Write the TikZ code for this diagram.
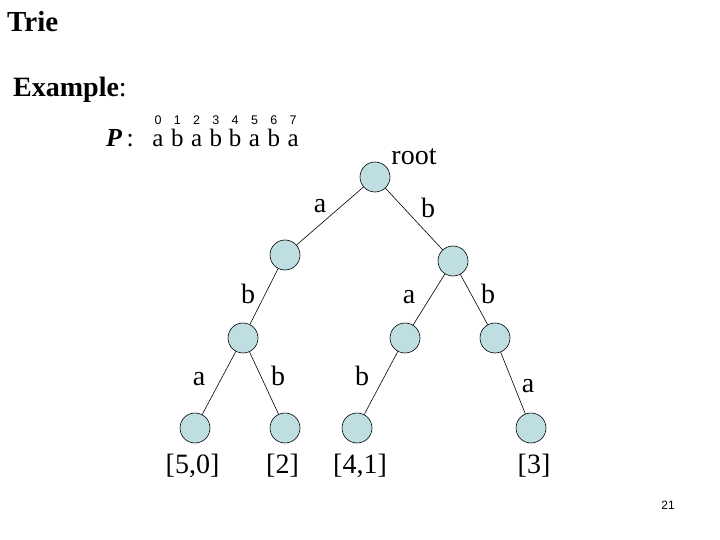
\documentclass[tikz,border=0pt]{standalone}
\usepackage{fontspec}
\setmainfont{Liberation Serif}[BoldFont={Liberation Serif Bold},ItalicFont={Liberation Serif Italic},BoldItalicFont={Liberation Serif Bold Italic}]
\newfontfamily\digitfont{Liberation Sans}
\definecolor{nodefill}{RGB}{190,222,226}
\begin{document}
\begin{tikzpicture}[x=1pt,y=-1pt,
  tnode/.style={circle,draw=black,line width=0.6pt,fill=nodefill,minimum size=30pt,inner sep=0pt},
  edge/.style={line width=0.6pt},
  lbl/.style={font=\fontsize{28}{32}\selectfont,inner sep=0pt,anchor=base},
  leaf/.style={font=\fontsize{28}{32}\selectfont,inner sep=0pt,anchor=base}]
\useasboundingbox (0,0) rectangle (720,540);
\node[anchor=base west,inner sep=0pt,font=\fontsize{29}{32}\selectfont\bfseries] (title) at (7,32) {Trie};
\node[anchor=base west,inner sep=0pt,font=\fontsize{28}{32}\selectfont] (ex) at (13,97) {\textbf{Example}:};
\node[inner sep=0pt,anchor=base,font=\fontsize{26}{30}\selectfont] (P) at (120,147) {\textbf{\textit{P}}\,:};
\foreach \i/\c in {0/a,1/b,2/a,3/b,4/b,5/a,6/b,7/a}{
  \node[inner sep=0pt,anchor=base,font=\fontsize{25}{30}\selectfont] (c\i) at (158+19.3*\i,147) {\c};
  \node[inner sep=0pt,anchor=base,font=\digitfont\fontsize{12.5}{15}\selectfont] (d\i) at (158+19.3*\i,125) {\i};
}
% tree nodes
\node[tnode] (r) at (375,177) {};
\node[tnode] (l) at (285,255) {};
\node[tnode] (rr) at (453,261) {};
\node[tnode] (ll) at (243,338) {};
\node[tnode] (rm) at (405,338) {};
\node[tnode] (rb) at (495,338) {};
\node[tnode] (x1) at (195,428) {};
\node[tnode] (x2) at (285,428) {};
\node[tnode] (x3) at (357,428) {};
\node[tnode] (x4) at (531,428) {};
% edges
\draw[edge] (r) -- (l);
\draw[edge] (r) -- (rr);
\draw[edge] (l) -- (ll);
\draw[edge] (rr) -- (rm);
\draw[edge] (rr) -- (rb);
\draw[edge] (ll) -- (x1);
\draw[edge] (ll) -- (x2);
\draw[edge] (rm) -- (x3);
\draw[edge] (rb) -- (x4);
% labels
\node[lbl] (troot) at (414,165) {root};
\node[lbl] (e1) at (320,212) {a};
\node[lbl] (e2) at (428,218) {b};
\node[lbl] (e3) at (248,303) {b};
\node[lbl] (e4) at (409,303) {a};
\node[lbl] (e5) at (488,303) {b};
\node[lbl] (e6) at (199,385) {a};
\node[lbl] (e7) at (278,385) {b};
\node[lbl] (e8) at (362,385) {b};
\node[lbl] (e9) at (528,392) {a};
\node[leaf] (t1) at (192.5,473) {[5,0]};
\node[leaf] (t2) at (282.5,473) {[2]};
\node[leaf] (t3) at (360,473) {[4,1]};
\node[leaf] (t4) at (534,473) {[3]};
\node[inner sep=0pt,anchor=base,font=\digitfont\fontsize{12}{14}\selectfont] (pg) at (668,509) {21};
\end{tikzpicture}
\end{document}
